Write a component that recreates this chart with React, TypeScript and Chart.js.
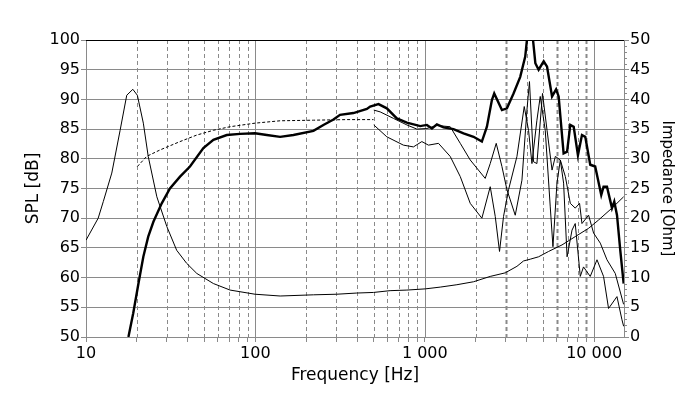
import React, { useEffect, useRef } from "react";
import { Chart, registerables } from "chart.js";

Chart.register(...registerables);

// ---- Data ----
const X_MIN = 10;
const X_MAX = 15000;
const X_DECADES = [10, 100, 1000, 10000];
const X_GRID = [
  10, 20, 30, 40, 50, 60, 70, 80, 90,
  100, 200, 300, 400, 500, 600, 700, 800, 900,
  1000, 2000, 3000, 4000, 5000, 6000, 7000, 8000, 9000,
  10000,
];
const X_GRID_BOLD = [3000, 6000, 9000];

const SPL_MIN = 50;
const SPL_MAX = 100;
const SPL_STEP = 5;
const OHM_MIN = 0;
const OHM_MAX = 50;
const OHM_STEP = 5;

// On-axis SPL (thick)
const FREQ_ON = [17.8, 19.0, 20.4, 21.8, 23.3, 25.0, 28.0, 31.3, 35.9, 41.1, 49.3, 56.5, 67.8, 81.2, 99.5, 116.8, 140, 167.7, 220, 252, 289, 316, 379, 455, 476, 533, 597, 684, 784, 940, 1029, 1102, 1179, 1290, 1477, 1693, 1940, 2173, 2327, 2490, 2570, 2854, 3055, 3342, 3660, 3918, 4009, 4180, 4355, 4495, 4700, 5035, 5270, 5640, 5960, 6170, 6600, 6920, 7230, 7570, 8020, 8470, 8860, 9480, 10140, 11010, 11360, 11900, 12740, 13140, 13640, 14260, 14930];
const SPL_ON = [50.0, 54.0, 59.0, 63.5, 66.9, 69.4, 72.5, 75.0, 77.0, 78.7, 81.8, 83.2, 84.0, 84.2, 84.3, 84.0, 83.7, 84.0, 84.7, 85.7, 86.6, 87.4, 87.7, 88.4, 88.8, 89.2, 88.5, 86.8, 86.1, 85.5, 85.7, 85.1, 85.8, 85.3, 85.0, 84.3, 83.7, 82.9, 85.4, 89.9, 91.0, 88.2, 88.5, 91.0, 93.8, 97.2, 100, 102, 100, 96.1, 95.0, 96.4, 95.5, 90.5, 91.7, 90.5, 80.9, 81.2, 85.7, 85.4, 80.6, 84.0, 83.7, 79.0, 78.7, 73.9, 75.3, 75.3, 71.7, 72.8, 70.5, 64.6, 59.0];

// Low-frequency dashed curve
const FREQ_DASH = [20.1, 22.8, 27.4, 35.9, 45.1, 56.5, 70.9, 99.5, 140, 220, 347, 498];
const SPL_DASH = [78.7, 80.4, 81.5, 82.9, 84.0, 84.8, 85.4, 86.0, 86.4, 86.5, 86.6, 86.6];

// Off-axis curve A (thin, upper)
const FREQ_A = [500, 545, 654, 784, 898, 1029, 1179, 1413, 1620, 1855, 2274, 2434, 2641, 2854, 3055, 3420, 3746, 4009, 4150, 4385, 4592, 4955, 5270, 5640, 5900, 6310, 6760, 7230, 7730, 8200, 8470, 9270, 9920, 10870, 11900, 13320, 14920];
const SPL_A = [88.2, 87.9, 86.8, 85.7, 85.0, 85.1, 85.6, 85.4, 82.6, 79.8, 76.7, 79.2, 82.6, 78.7, 74.8, 70.5, 76.4, 88.2, 93.0, 79.5, 79.2, 91.0, 84.8, 78.1, 80.4, 79.8, 77.0, 72.5, 71.7, 72.5, 69.1, 70.5, 67.5, 65.8, 63.0, 60.7, 55.5];

// Off-axis curve B (thin, lower)
const FREQ_B = [500, 597, 748, 857, 961, 1051, 1205, 1413, 1620, 1855, 2173, 2434, 2606, 2762, 2917, 3123, 3500, 3865, 4098, 4292, 4592, 4804, 5142, 5505, 5710, 6030, 6310, 6600, 6920, 7400, 7730, 8280, 8650, 9480, 10390, 11360, 12160, 13630, 14590, 14930];
const SPL_B = [85.7, 83.7, 82.3, 82.0, 82.9, 82.3, 82.6, 80.4, 77.0, 72.5, 70.0, 75.3, 70.3, 64.4, 70.3, 74.8, 80.4, 88.8, 84.8, 79.2, 86.5, 90.5, 84.8, 71.9, 65.2, 75.9, 79.8, 75.9, 63.5, 68.0, 69.1, 60.2, 61.8, 60.2, 63.0, 60.2, 54.8, 56.8, 52.9, 51.8];

// Impedance (right axis)
const FREQ_IMP = [10, 11.8, 12.65, 14.2, 15.9, 17.4, 18.9, 20.1, 21.8, 23.3, 26.2, 30, 34.3, 39.3, 45.1, 56.5, 70.9, 99.5, 140, 220, 302, 397, 498, 624, 784, 1006, 1233, 1547, 1940, 2434, 2985, 3500, 3828, 4195, 4695, 5380, 6457, 7730, 9270, 10620, 12740, 14920];
const OHM_IMP = [16.3, 20.0, 22.8, 27.6, 34.8, 40.7, 41.7, 40.7, 36.0, 30.4, 23.6, 18.6, 14.6, 12.4, 10.7, 9.0, 7.9, 7.2, 6.9, 7.1, 7.2, 7.4, 7.5, 7.8, 7.9, 8.1, 8.4, 8.8, 9.3, 10.2, 10.8, 11.9, 12.8, 13.1, 13.5, 14.4, 15.5, 16.9, 18.3, 19.7, 21.7, 23.6];

const GRID = "#8a8a8a";
const FONT = "DejaVu Sans";

const pts = (xs: number[], ys: number[]) => xs.map((x, i) => ({ x, y: ys[i] }));
const fmtFreq = (v: number) => String(v).replace(/\B(?=(\d{3})+(?!\d))/g, " ");

const gridPlugin = {
  id: "freqGrid",
  beforeDatasetsDraw(chart: any) {
    const { ctx, chartArea: a, scales } = chart;
    const xs = scales.x;
    const y2 = scales.y2;
    ctx.save();
    ctx.strokeStyle = GRID;
    for (const v of X_GRID) {
      if (v <= X_MIN) continue;
      const px = Math.round(xs.getPixelForValue(v)) + 0.5;
      const decade = X_DECADES.includes(v);
      ctx.beginPath();
      ctx.lineWidth = X_GRID_BOLD.includes(v) ? 2 : 1;
      ctx.setLineDash(decade ? [] : [4, 3]);
      ctx.moveTo(px, a.top);
      ctx.lineTo(px, a.bottom);
      ctx.stroke();
    }
    ctx.setLineDash([]);
    ctx.lineWidth = 1;
    // minor ticks on impedance axis
    for (let v = OHM_MIN; v <= OHM_MAX; v += 1) {
      if (v % OHM_STEP === 0) continue;
      const py = Math.round(y2.getPixelForValue(v)) + 0.5;
      ctx.beginPath();
      ctx.moveTo(a.right, py);
      ctx.lineTo(a.right + 3, py);
      ctx.stroke();
    }
    // top frame
    ctx.strokeStyle = "#000";
    ctx.beginPath();
    ctx.moveTo(a.left, Math.round(a.top) + 0.5);
    ctx.lineTo(a.right, Math.round(a.top) + 0.5);
    ctx.stroke();
    ctx.restore();
  },
};

export default function App() {
  const ref = useRef<HTMLCanvasElement | null>(null);

  useEffect(() => {
    if (!ref.current) return;
    Chart.defaults.font.family = FONT;
    Chart.defaults.color = "#000";
    const chart = new Chart(ref.current, {
      type: "line",
      data: {
        datasets: [
          {
            label: "Impedance",
            data: pts(FREQ_IMP, OHM_IMP),
            yAxisID: "y2",
            borderColor: "#000",
            borderWidth: 1,
            pointRadius: 0,
            tension: 0,
            fill: false,
          },
          {
            label: "Simulated",
            data: pts(FREQ_DASH, SPL_DASH),
            yAxisID: "y",
            borderColor: "#000",
            borderWidth: 1,
            borderDash: [3, 2],
            pointRadius: 0,
            tension: 0,
            fill: false,
          },
          {
            label: "Off-axis A",
            data: pts(FREQ_A, SPL_A),
            yAxisID: "y",
            borderColor: "#000",
            borderWidth: 1,
            pointRadius: 0,
            tension: 0,
            fill: false,
          },
          {
            label: "Off-axis B",
            data: pts(FREQ_B, SPL_B),
            yAxisID: "y",
            borderColor: "#000",
            borderWidth: 1,
            pointRadius: 0,
            tension: 0,
            fill: false,
          },
          {
            label: "On-axis",
            data: pts(FREQ_ON, SPL_ON),
            yAxisID: "y",
            borderColor: "#000",
            borderWidth: 2.4,
            pointRadius: 0,
            tension: 0,
            fill: false,
          },
        ],
      },
      options: {
        animation: false,
        responsive: false,
        devicePixelRatio: 1,
        parsing: true,
        layout: { padding: { top: 40, left: 0, right: 0, bottom: 0 } },
        plugins: { legend: { display: false }, tooltip: { enabled: false } },
        scales: {
          x: {
            type: "logarithmic",
            min: X_MIN,
            max: X_MAX,
            afterBuildTicks: (s: any) => {
              s.ticks = X_GRID.map((v) => ({ value: v, major: X_DECADES.includes(v) }));
            },
            afterFit: (s: any) => {
              s.height = 62;
            },
            ticks: {
              autoSkip: false,
              maxRotation: 0,
              minRotation: 0,
              padding: 2,
              font: { size: 16, family: FONT },
              color: "#000",
              callback: (v: any) => (X_DECADES.includes(Number(v)) ? fmtFreq(Number(v)) : ""),
            },
            grid: { drawOnChartArea: false, tickLength: 5, color: GRID },
            border: { color: GRID },
            title: {
              display: true,
              text: "Frequency [Hz]",
              font: { size: 17, family: FONT },
              color: "#000",
              padding: { top: 0, bottom: 13 },
            },
          },
          y: {
            type: "linear",
            position: "left",
            min: SPL_MIN,
            max: SPL_MAX,
            afterFit: (s: any) => {
              s.width = 86;
            },
            ticks: {
              stepSize: SPL_STEP,
              padding: 1,
              font: { size: 16, family: FONT },
              color: "#000",
            },
            grid: { color: GRID, tickLength: 5 },
            border: { color: GRID },
            title: {
              display: true,
              text: "SPL [dB]",
              font: { size: 17, family: FONT },
              color: "#000",
              padding: { top: 23, bottom: 0 },
            },
          },
          y2: {
            type: "linear",
            position: "right",
            min: OHM_MIN,
            max: OHM_MAX,
            afterFit: (s: any) => {
              s.width = 76;
            },
            ticks: {
              stepSize: OHM_STEP,
              padding: 1,
              font: { size: 16, family: FONT },
              color: "#000",
            },
            grid: { drawOnChartArea: false, color: GRID, tickLength: 5 },
            border: { color: GRID },
            title: {
              display: true,
              text: "Impedance [Ohm]",
              font: { size: 15, family: FONT },
              color: "#000",
              padding: { top: 24, bottom: 0 },
            },
          },
        },
      },
      plugins: [gridPlugin],
    } as any);
    return () => chart.destroy();
  }, []);

  return (
    <div style={{ position: "fixed", left: 0, top: 0, width: 700, height: 399, background: "#fff" }}>
      <canvas ref={ref} width={700} height={399} style={{ display: "block" }} />
    </div>
  );
}
